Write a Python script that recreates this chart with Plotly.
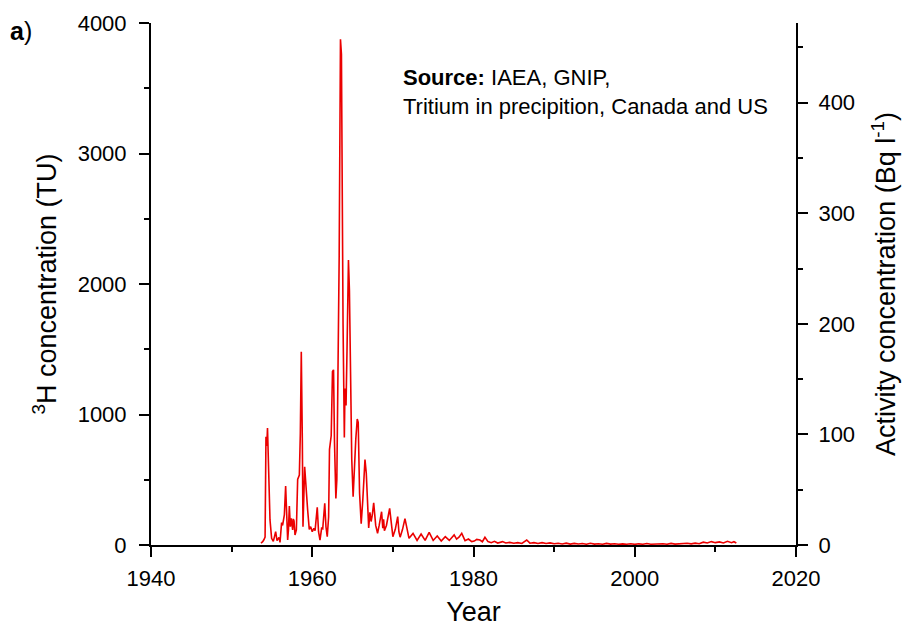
import plotly.graph_objects as go

# Tritium in precipitation, Canada and US
years = [
    1953.64, 1953.85, 1954.0, 1954.15, 1954.26, 1954.36, 1954.45, 1954.55, 1954.76, 1954.96,
    1955.17, 1955.3, 1955.46, 1955.63, 1955.75, 1955.88, 1956.0, 1956.1, 1956.2, 1956.32,
    1956.41, 1956.54, 1956.7, 1956.83, 1956.95, 1957.05, 1957.16, 1957.28, 1957.4, 1957.48,
    1957.57, 1957.65, 1957.74, 1957.86, 1958.03, 1958.19, 1958.4, 1958.52, 1958.64, 1958.77,
    1958.85, 1959.06, 1959.22, 1959.43, 1959.63, 1959.8, 1960.0, 1960.2, 1960.35, 1960.5,
    1960.62, 1960.78, 1960.96, 1961.16, 1961.3, 1961.55, 1961.7, 1961.86, 1962.03, 1962.14,
    1962.35, 1962.51, 1962.64, 1962.76, 1962.93, 1963.05, 1963.18, 1963.34, 1963.5, 1963.62,
    1963.82, 1963.98, 1964.06, 1964.19, 1964.31, 1964.49, 1964.61, 1964.74, 1964.9, 1965.07,
    1965.24, 1965.4, 1965.58, 1965.7, 1965.87, 1966.07, 1966.27, 1966.54, 1966.7, 1966.92,
    1967.0, 1967.15, 1967.3, 1967.45, 1967.62, 1967.87, 1968.1, 1968.3, 1968.6, 1968.75,
    1968.85, 1968.95, 1969.2, 1969.6, 1970.0, 1970.3, 1970.6, 1970.75, 1970.9, 1971.2,
    1971.5, 1972.0, 1972.5, 1973.0, 1973.5, 1974.0, 1974.5, 1975.0, 1975.5, 1976.0,
    1976.5, 1977.0, 1977.3, 1977.6, 1977.9, 1978.2, 1978.54, 1978.95, 1979.37, 1979.78,
    1980.1, 1980.4, 1980.8, 1981.1, 1981.42, 1981.8, 1982.2, 1982.6, 1983.0, 1983.6,
    1984.0, 1984.5, 1985.0, 1985.5, 1986.0, 1986.6, 1987.0, 1987.5, 1988.0, 1988.5,
    1989.0, 1989.5, 1990.0, 1990.5, 1991.0, 1991.5, 1992.0, 1992.5, 1993.0, 1993.5,
    1994.0, 1994.5, 1995.0, 1995.5, 1996.0, 1996.5, 1997.0, 1997.5, 1998.0, 1998.5,
    1999.0, 1999.5, 2000.0, 2000.5, 2001.0, 2001.5, 2002.0, 2002.5, 2003.0, 2003.5,
    2004.0, 2004.5, 2005.0, 2005.5, 2006.0, 2006.5, 2007.0, 2007.5, 2008.0, 2008.5,
    2009.0, 2009.5, 2010.0, 2010.5, 2011.0, 2011.5, 2012.0, 2012.3, 2012.6,
]
tritium_tu = [
    15, 25, 40, 60, 830, 760, 896, 715, 192, 51,
    28, 60, 102, 34, 45, 59, 20, 90, 171, 150,
    205, 230, 452, 115, 38, 120, 299, 140, 205, 160,
    115, 200, 184, 77, 115, 503, 536, 851, 1481, 805,
    140, 600, 485, 268, 120, 140, 102, 128, 110, 200,
    289, 102, 38, 128, 124, 319, 140, 64, 217, 733,
    837, 1329, 1342, 785, 357, 500, 1174, 2210, 3875, 3760,
    1692, 824, 1200, 1070, 1484, 2184, 1951, 1433, 655, 370,
    655, 811, 966, 940, 396, 163, 345, 655, 552, 241,
    130, 250, 180, 230, 324, 150, 90, 150, 255, 128,
    197, 110, 150, 281, 64, 120, 217, 100, 60, 120,
    202, 51, 89, 35, 84, 35, 97, 35, 69, 30,
    64, 35, 60, 77, 45, 60, 89, 33, 46, 26,
    30, 43, 38, 25, 59, 26, 18, 28, 15, 26,
    15, 20, 14, 18, 12, 38, 14, 18, 12, 18,
    12, 16, 10, 13, 8, 14, 7, 12, 8, 11,
    6, 13, 7, 10, 6, 12, 7, 10, 6, 9,
    6, 10, 5, 9, 6, 11, 6, 9, 7, 10,
    6, 12, 7, 10, 8, 13, 9, 14, 10, 22,
    15, 26, 18, 24, 16, 28, 18, 25, 15,
]

TU_TO_BQ = 0.118  # 1 TU = 0.118 Bq/l
activity_bq = [v * TU_TO_BQ for v in tritium_tu]

x_ticks = [1940, 1960, 1980, 2000, 2020]
y_left_ticks = [0, 1000, 2000, 3000, 4000]
y_right_ticks = [0, 100, 200, 300, 400]

FONT = "Liberation Sans, Arial, sans-serif"

fig = go.Figure()
fig.add_trace(go.Scatter(
    x=years, y=tritium_tu, mode="lines",
    line=dict(color="rgb(235,0,0)", width=1.6),
    showlegend=False,
))
# same series on the Bq axis, drawn transparent so the right axis scales with it
fig.add_trace(go.Scatter(
    x=years, y=activity_bq, mode="lines", yaxis="y2",
    line=dict(color="rgba(0,0,0,0)", width=0),
    showlegend=False, hoverinfo="skip",
))

axis_common = dict(
    showline=True, linecolor="black", linewidth=2, mirror=False,
    ticks="outside", ticklen=10, tickwidth=2, tickcolor="black",
    showgrid=False, zeroline=False, automargin=False,
    tickfont=dict(family=FONT, size=22, color="black"),
)
minor_common = dict(ticks="outside", ticklen=5, tickwidth=2, tickcolor="black")
title_font = dict(family=FONT, size=27, color="black")

# page body has an 8px margin, so the figure is a bit smaller than the window
fig.update_layout(
    width=902, height=620,
    margin=dict(l=143, r=114, t=15, b=83),
    plot_bgcolor="white", paper_bgcolor="white",
    xaxis=dict(
        range=[1940, 2020], tickvals=x_ticks, ticklabelstandoff=3,
        minor=dict(dtick=10, tick0=1940, **minor_common),
        title=dict(text="Year", font=title_font, standoff=12),
        **axis_common,
    ),
    yaxis=dict(
        range=[0, 4000], tickvals=y_left_ticks, ticklabelstandoff=8,
        minor=dict(dtick=500, tick0=0, **minor_common),
        title=dict(text="<sup>3</sup>H concentration (TU)", font=title_font, standoff=13),
        **axis_common,
    ),
    yaxis2=dict(
        range=[0, 4000 * TU_TO_BQ], tickvals=y_right_ticks, ticklabelstandoff=6,
        overlaying="y", side="right",
        minor=dict(dtick=50, tick0=0, **minor_common),
        title=dict(text="Activity concentration (Bq l<sup>-1</sup>)", font=title_font, standoff=22),
        **axis_common,
    ),
    annotations=[
        dict(text="<b>Source:</b> IAEA, GNIP,<br>Tritium in precipition, Canada and US",
             xref="paper", yref="paper", x=0.3876, y=0.924, xanchor="left", yanchor="top",
             align="left", showarrow=False, font=dict(family=FONT, size=22, color="black")),
        dict(text="<b>a</b>)", xref="paper", yref="paper", x=-0.222, y=1.015,
             xanchor="left", yanchor="top", showarrow=False,
             font=dict(family=FONT, size=25, color="black")),
    ],
)

fig.write_html("out.html")
